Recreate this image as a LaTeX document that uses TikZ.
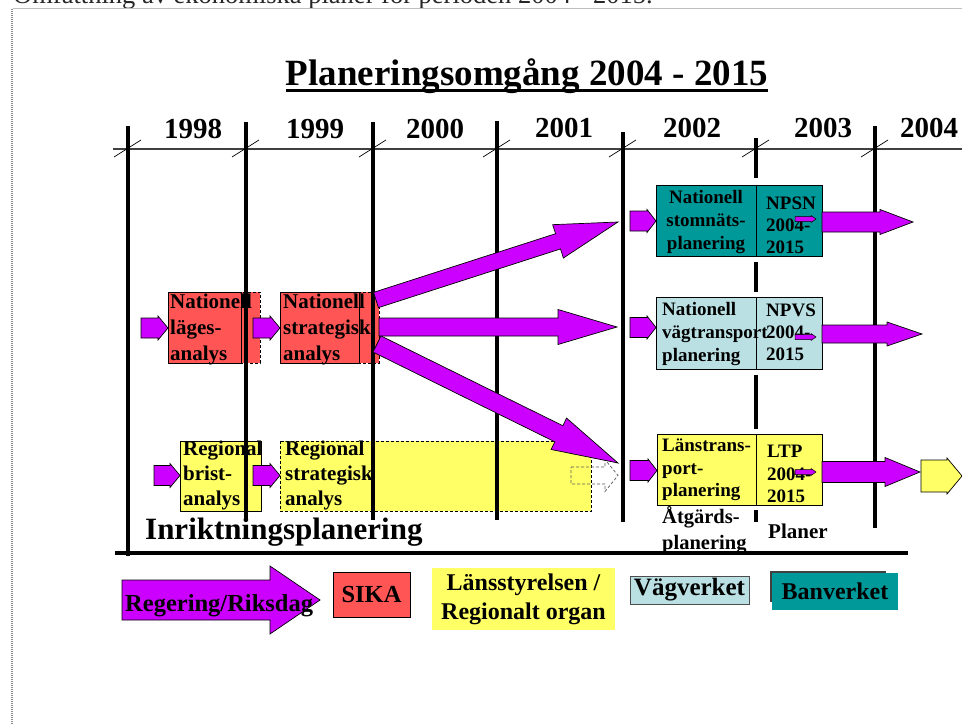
\documentclass[tikz,border=0pt]{standalone}
\usepackage{fontspec}
\setmainfont{Liberation Serif}
\usetikzlibrary{calc}
\definecolor{arrmag}{RGB}{204,0,255}
\definecolor{sikared}{RGB}{255,85,85}
\definecolor{lyel}{RGB}{255,255,102}
\definecolor{vvblue}{RGB}{186,224,228}
\definecolor{bvteal}{RGB}{0,153,153}
% #1 options, #2 start, #3 tip, #4 body half width, #5 head half width, #6 head length
\newcommand\fatarrow[6][]{%
  \coordinate (hb) at ($(#3)!#6!(#2)$);
  \draw[fatarr,#1] ($(#2)!#4!90:(#3)$) -- ($(hb)!#4!-90:(#2)$) -- ($(hb)!#5!-90:(#2)$) -- (#3)
    -- ($(hb)!#5!90:(#2)$) -- ($(hb)!#4!90:(#2)$) -- ($(#2)!#4!-90:(#3)$) -- cycle;}
\begin{document}
\begin{tikzpicture}[x=1pt,y=-1pt,
  fatarr/.style={fill=arrmag,draw=black,line width=0.7pt,line join=miter},
  yearlbl/.style={font=\fontsize{29}{34}\selectfont\bfseries,anchor=base,inner sep=0},
  tl/.style={line width=4pt},
  tick/.style={line width=0.7pt},
  boxr/.style={draw=black,line width=0.7pt,anchor=north west,inner sep=0},
  dashbox/.style={draw=black,line width=0.7pt,dash pattern=on 3pt off 2pt},
  rtxt/.style={align=left,anchor=north west,inner sep=0,font=\fontsize{19}{23}\selectfont\bfseries},
  ltxt/.style={align=left,anchor=north west,inner sep=0,font=\fontsize{21}{26}\selectfont\bfseries},
  legtxt/.style={font=\fontsize{24.5}{29}\selectfont\bfseries,inner sep=0}
]
\useasboundingbox (0,0) rectangle (962,725);
\fill[white] (0,0) rectangle (962,725);

% page remnants
\node[anchor=base west,inner sep=0,font=\fontsize{26.5}{30}\selectfont,text=black!85] (topline) at (13,4) {Omfattning av ekonomiska planer för perioden 2004 - 2015.};
\draw[black!25,line width=1.5pt] (13,8.5) -- (962,8.5);
\draw[black!45,line width=2pt,dash pattern=on 1pt off 1pt] (12,9) -- (12,725);

% title
\node[font=\fontsize{37}{44}\selectfont\bfseries,anchor=base,inner sep=0] (title) at (527,85) {Planeringsomgång 2004 - 2015};
\draw[line width=3.5pt] ($(title.base west)+(0,5.5)$) -- ($(title.base east)+(0,5.5)$);

% years
\node[yearlbl] (y1998) at (193,139) {1998};
\node[yearlbl] (y1999) at (315,139) {1999};
\node[yearlbl] (y2000) at (435,139) {2000};
\node[yearlbl] (y2001) at (564,137) {2001};
\node[yearlbl] (y2002) at (692,137) {2002};
\node[yearlbl] (y2003) at (823,137) {2003};
\node[yearlbl,anchor=base west] (y2004) at (900,137) {2004};

% time axis
\draw[black!75,line width=1.3pt] (113,149) -- (962,149);

% left boxes (drawn below the timeline bars)
\draw[dashbox,fill=sikared] (241,292) rectangle (260,363);
\node[boxr,fill=sikared,minimum width=73pt,minimum height=71pt] (lages) at (168,292) {};
\draw[dashbox,fill=sikared] (359,292) rectangle (379,363);
\node[boxr,fill=sikared,minimum width=79pt,minimum height=71pt] (strat) at (280,292) {};
\node[ltxt] (lagestxt) at (170,294) {Nationell\\läges-\\analys};
\node[ltxt] (strattxt) at (283,294) {Nationell\\strategisk\\analys};

\node[boxr,fill=lyel,minimum width=81pt,minimum height=70pt] (brist) at (180,441) {};
\node[draw=none,fill=lyel,anchor=north west,inner sep=0,minimum width=311pt,minimum height=70pt] (rstrat) at (280,441) {};
\draw[dashbox] (rstrat.north west) rectangle (rstrat.south east);
\node[ltxt,font=\fontsize{21}{25}\selectfont\bfseries] (bristtxt) at (183,441) {Regional\\brist-\\analys};
\node[ltxt,font=\fontsize{21}{25}\selectfont\bfseries] (rstrattxt) at (285,441) {Regional\\strategisk\\analys};
\coordinate (ghS) at (571,475.5);
\coordinate (ghT) at (618,475.5);
\fatarrow[fill=none,draw=black!65,dash pattern=on 3pt off 2pt]{ghS}{ghT}{8.5pt}{16pt}{13pt}

% timeline bars
\draw[tl] (128,126) -- (128,556);
\draw[tl] (246,122) -- (246,520);
\draw[tl] (373,122) -- (373,520);
\draw[tl] (497,121) -- (497,520);
\draw[tl] (623,132) -- (623,522);
\draw[tl] (756,138) -- (756,178);
\draw[tl] (756,262) -- (756,292);
\draw[tl] (756,375) -- (756,429);
\draw[tl] (756,510) -- (756,522);
\draw[tl] (875,126) -- (875,528);
\foreach \xx in {128,246,373,497,623,756,875}
  \draw[tick] (\xx-14,157) -- (\xx+13,140);

% right boxes
\node[boxr,fill=bvteal,minimum width=100pt,minimum height=71pt] (nsn) at (656,185) {};
\node[boxr,fill=bvteal,minimum width=66pt,minimum height=71pt] (npsn) at (756,185) {};
\node[rtxt,align=center,anchor=north] (nsntxt) at (706,190) {Nationell\\stomnäts-\\planering};
\node[rtxt,font=\fontsize{19}{22}\selectfont\bfseries] (npsntxt) at (766,197) {NPSN\\2004-\\2015};

\node[boxr,fill=vvblue,minimum width=100pt,minimum height=72pt] (nvp) at (656,297) {};
\node[boxr,fill=vvblue,minimum width=66pt,minimum height=72pt] (npvs) at (756,297) {};
\node[rtxt] (nvptxt) at (662,302) {Nationell\\vägtransport\\planering};
\node[rtxt,font=\fontsize{19}{22}\selectfont\bfseries] (npvstxt) at (766,304) {NPVS\\2004-\\2015};

\node[boxr,fill=lyel,minimum width=99pt,minimum height=71pt] (ltp) at (657,434) {};
\node[boxr,fill=lyel,minimum width=66pt,minimum height=71pt] (ltpp) at (756,434) {};
\node[rtxt,font=\fontsize{19}{22.5}\selectfont\bfseries] (ltptxt) at (662,439) {Länstrans-\\port-\\planering};
\node[rtxt,font=\fontsize{19}{22.5}\selectfont\bfseries] (ltpptxt) at (767,445) {LTP\\2004-\\2015};

% labels
\node[anchor=base west,inner sep=0,font=\fontsize{31}{36}\selectfont\bfseries] (inrikt) at (145,539) {Inriktningsplanering};
\node[anchor=north west,align=left,inner sep=0,font=\fontsize{20.5}{26}\selectfont\bfseries] (atgard) at (662,506) {Åtgärds-\\planering};
\node[anchor=base west,inner sep=0,font=\fontsize{21}{25}\selectfont\bfseries] (planer) at (768,538) {Planer};
\draw[line width=4pt] (115,553) -- (908,553);

% small arrows into boxes
\coordinate (a1s) at (141,328); \coordinate (a1t) at (168,328);
\fatarrow{a1s}{a1t}{10pt}{12pt}{10pt}
\coordinate (a2s) at (253,328); \coordinate (a2t) at (280,328);
\fatarrow{a2s}{a2t}{10pt}{12pt}{10pt}
\coordinate (a3s) at (154,475.5); \coordinate (a3t) at (180,475.5);
\fatarrow{a3s}{a3t}{10pt}{12pt}{10pt}
\coordinate (a4s) at (253,475.5); \coordinate (a4t) at (280,475.5);
\fatarrow{a4s}{a4t}{10pt}{12pt}{10pt}
\coordinate (a5s) at (630,221); \coordinate (a5t) at (656,221);
\fatarrow{a5s}{a5t}{10pt}{11.5pt}{9pt}
\coordinate (a6s) at (630,327.5); \coordinate (a6t) at (656,327.5);
\fatarrow{a6s}{a6t}{10pt}{11.5pt}{9pt}
\coordinate (a7s) at (630,470.5); \coordinate (a7t) at (657,470.5);
\fatarrow{a7s}{a7t}{10pt}{11.5pt}{9pt}

% big arrows from strategic analysis
\coordinate (b1s) at (376,300); \coordinate (b1t) at (618,222);
\fatarrow{b1s}{b1t}{8pt}{17.5pt}{63pt}
\coordinate (b2s) at (379,327); \coordinate (b2t) at (617,327);
\fatarrow{b2s}{b2t}{9pt}{17.5pt}{59pt}
\coordinate (b3s) at (377,344); \coordinate (b3t) at (618,463);
\fatarrow{b3s}{b3t}{9pt}{17.5pt}{66pt}

% arrows out of plans
\coordinate (c1s) at (822,222); \coordinate (c1t) at (913,222);
\fatarrow{c1s}{c1t}{10pt}{12.5pt}{33pt}
\coordinate (c2s) at (822,334); \coordinate (c2t) at (922,334);
\fatarrow{c2s}{c2t}{9pt}{12pt}{35pt}
\coordinate (c3s) at (822,472); \coordinate (c3t) at (920,472);
\fatarrow{c3s}{c3t}{10.5pt}{14.5pt}{35pt}
\coordinate (d1s) at (921,476); \coordinate (d1t) at (962,476);
\fatarrow[fill=lyel]{d1s}{d1t}{16pt}{18pt}{15pt}

% tiny arrows inside plan boxes
\coordinate (e1s) at (795,219); \coordinate (e1t) at (816,219);
\fatarrow[line width=0.5pt]{e1s}{e1t}{2.5pt}{3.5pt}{5pt}
\coordinate (e2s) at (795,337); \coordinate (e2t) at (816,337);
\fatarrow[line width=0.5pt]{e2s}{e2t}{2.5pt}{3.5pt}{5pt}
\coordinate (e3s) at (795,472); \coordinate (e3t) at (816,472);
\fatarrow[line width=0.5pt]{e3s}{e3t}{2.5pt}{3.5pt}{5pt}

% legend
\coordinate (legS) at (122,600); \coordinate (legT) at (320,600);
\fatarrow{legS}{legT}{20pt}{34pt}{50pt}
\node[legtxt,anchor=base west] (legarrtxt) at (125,611) {Regering/Riksdag};
\node[draw=black,line width=0.7pt,fill=sikared,minimum width=77pt,minimum height=45pt,legtxt] (sika) at (371.5,594.5) {SIKA};
\node[fill=lyel,minimum width=183pt,minimum height=62pt,align=center,font=\fontsize{24}{29}\selectfont\bfseries] (lans) at (523.5,599) {Länsstyrelsen /\\Regionalt organ};
\node[draw=black!70,line width=0.8pt,fill=vvblue,minimum width=119pt,minimum height=28pt,legtxt,font=\fontsize{25}{30}\selectfont\bfseries] (vv) at (689.5,590) {Vägverket};
\fill[black!75] (770,571) rectangle (886,602);
\node[fill=bvteal,minimum width=126pt,minimum height=37pt,legtxt,font=\fontsize{24}{29}\selectfont\bfseries] (bv) at (835,591.5) {Banverket};
\end{tikzpicture}
\end{document}
